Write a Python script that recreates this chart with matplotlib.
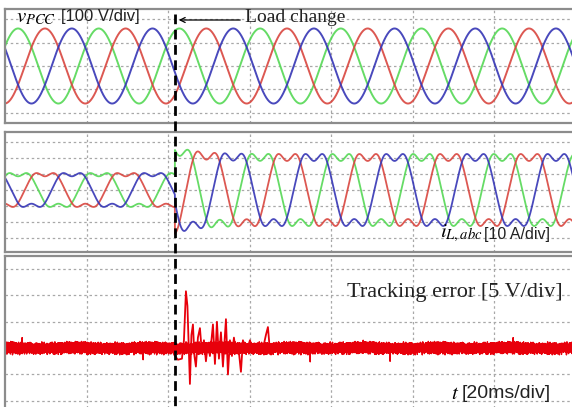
import numpy as np
import matplotlib
matplotlib.use("Agg")
import matplotlib.pyplot as plt
from matplotlib.lines import Line2D
from matplotlib.patches import FancyArrowPatch

plt.rcParams['mathtext.fontset'] = 'stix'

# ---- values read off the scope capture (physical units) ----
# time base: 20 ms/div, load change at ~41.7 ms
T_END = 142.0              # ms shown
T_LOAD = 41.7              # ms
PERIOD = 19.8              # ms, grid frequency ~50 Hz

# PCC voltage (100 V/div)
V_AMP = 160.0              # V peak
V_PHASE_PEAK = [3.2, 3.2 + PERIOD / 3, 3.2 + 2 * PERIOD / 3]   # green, red, blue peak times (ms)

# load current (10 A/div)
I_PEAK_PRE = 10.6          # A
I_PEAK_POST = 22.5         # A
I_OVERSHOOT = 0.22         # relative overshoot right after load change
I_OVERSHOOT_TAU = 5.0      # ms
HARM_ORDER = [1, 3, 5]
HARM_GAIN = [1.0, -0.22, -0.04]

# tracking error (5 V/div)
NOISE_A = [0.6, -0.4, 0.9, -0.8, 0.2, -1.0, 0.7, 0.1, -0.5, 1.0, -0.3, 0.4,
           -0.9, 0.8, -0.2, 0.5, -0.7, 0.3, -0.1, 0.9, -0.6, 0.2, -0.8, 0.6,
           -0.4, 1.0, -0.9, 0.1, 0.4, -0.3, 0.7, -1.0, 0.5, -0.2, 0.8, -0.5,
           0.3, -0.7, 0.9, 0.0, -0.6, 0.6, -0.1, 0.2, -0.9, 0.8, -0.4, 0.5,
           -0.8, 0.3, 0.7, -0.3, 0.1, -0.6, 0.9, -0.2, 0.4, -1.0, 0.6, -0.5, 0.2]
NOISE_B = [0.3, -0.5, 0.1, 0.6, -0.2, -0.6, 0.4, 0.2, -0.4, 0.5, -0.1, -0.3,
           0.6, -0.5, 0.2, 0.0, -0.6, 0.5, -0.2, 0.3, 0.1, -0.4, 0.6, -0.3,
           -0.1, 0.4, -0.5, 0.2, 0.5]
NOISE_SCALE = 0.8          # V
SPIKE_T = [4.2, 33.9, 74.9, 87.9, 94.5, 124.7]       # ms
SPIKE_V = [2.0, -2.2, -2.6, 1.5, -2.5, 2.0]           # V
TRANS_T = [-1.0, 0.0, 0.74, 1.72, 2.21, 2.70, 3.07, 3.44, 3.68, 4.05, 4.42,
           4.79, 5.15, 5.64, 6.14, 6.63, 7.12, 7.61, 8.10, 8.59, 9.33, 9.82,
           10.31, 10.80, 11.29, 11.78, 12.52, 13.01, 13.50, 13.99, 14.48,
           14.97, 15.46, 16.20, 16.69, 17.42, 18.41, 19.39, 20.37, 21.35,
           22.33, 22.82, 23.31, 24.29, 25.28]                # ms after load change
TRANS_V = [0.0, -1.5, -2.2, -2.0, 1.5, 10.8, 8.0, -1.0, -6.8, 2.5, 4.5,
           -1.5, -3.5, 2.0, 3.8, -1.0, 1.5, -2.5, 1.0, -1.5, 4.5, -3.0,
           5.0, -2.0, 3.0, -3.5, 5.5, -5.0, 1.5, -1.5, 2.0, -1.0, 1.0, -4.5,
           1.5, -1.0, 1.5, -1.0, 1.0, -1.0, 2.5, 4.0, -0.5, 1.0, 0.0]  # V

PHASE_COLORS = ['#55d855', '#d9463f', '#3535b5']   # green, red, blue
ERR_COLOR = '#e8000b'

W, H = 572, 407
DIV_PX = 81.5
X0_PX = 5


def fx(px):
    return px / W


def fy(py):
    return 1 - py / H


def add_panel(top, bottom, ylim, ystep):
    width_px = 580
    xmax = width_px / DIV_PX * 20
    ax = fig.add_axes([fx(X0_PX), fy(bottom), width_px / W, (bottom - top) / H])
    ax.set_xticks(np.arange(20, xmax, 20))
    ax.set_yticks(np.arange(np.ceil(ylim[0] / ystep) * ystep, ylim[1], ystep))
    ax.set_xlim(0, xmax)
    ax.set_ylim(*ylim)
    ax.tick_params(length=0, labelbottom=False, labelleft=False)
    ax.grid(True, color='#a8a8a8', lw=0.9, ls=(0, (2, 2.2)))
    for s in ax.spines.values():
        s.set_color('#8c8c8c')
        s.set_linewidth(1.6)
    ax.spines['right'].set_visible(False)
    return ax


fig = plt.figure(figsize=(W / 100, H / 100), dpi=100)

t = np.arange(0, T_END, 0.02)

# ---- panel 1: PCC voltages ----
ax1 = add_panel(9, 123, (-243, 243), 100)
for tp, c in zip(V_PHASE_PEAK, PHASE_COLORS):
    v = V_AMP * np.cos(2 * np.pi * (t - tp) / PERIOD)
    ax1.plot(t, v, color=c, lw=1.4, alpha=0.9)

# ---- panel 2: load currents ----
ax2 = add_panel(132, 252, (-38.75, 36.25), 10)
theta = np.linspace(0, 2 * np.pi, 721)
shape_ref = sum(g * np.cos(h * theta) for h, g in zip(HARM_ORDER, HARM_GAIN))
norm = np.max(np.abs(shape_ref))
after = t >= T_LOAD
env = np.where(after,
               I_PEAK_POST * (1 + I_OVERSHOOT * np.exp(-(t - T_LOAD) / I_OVERSHOOT_TAU)),
               I_PEAK_PRE)
for tp, c in zip(V_PHASE_PEAK, PHASE_COLORS):
    ph = 2 * np.pi * (t - tp) / PERIOD
    shape = sum(g * np.cos(h * ph) for h, g in zip(HARM_ORDER, HARM_GAIN)) / norm
    ax2.plot(t, env * shape, color=c, lw=1.3, alpha=0.9)

# ---- panel 3: tracking error ----
ax3 = add_panel(256, 415, (-12.7, 17.5), 5)
na = np.resize(NOISE_A, t.size)
nb = np.resize(NOISE_B, t.size)
err = NOISE_SCALE * (na + nb)
for ts, vs in zip(SPIKE_T, SPIKE_V):
    err[np.argmin(np.abs(t - ts))] = vs
ax3.plot(t, err, color=ERR_COLOR, lw=1.0)
ax3.plot(np.array(TRANS_T) + T_LOAD, TRANS_V, color=ERR_COLOR, lw=1.3)

# ---- annotations ----
fig.add_artist(Line2D([fx(175), fx(175)], [fy(14), fy(407)], color='black',
                      lw=2.0, ls=(0, (3.5, 2))))
fig.add_artist(FancyArrowPatch((fx(243), fy(20)), (fx(176), fy(20)),
                               transform=fig.transFigure, arrowstyle='->',
                               mutation_scale=9, lw=0.9, color='black'))

fig.text(fx(16), fy(17), r'$v_{PCC}$', fontsize=15, va='center', ha='left')
fig.text(fx(61), fy(17), '[100 V/div]', fontsize=12, va='center', ha='left',
         family='Liberation Sans', color='#222222')
fig.text(fx(245), fy(17), 'Load change', fontsize=14, va='center', ha='left',
         family='Liberation Serif', color='#222222')
fig.text(fx(440), fy(233), r'$i_{L,abc}$', fontsize=15, va='center', ha='left')
fig.text(fx(484), fy(235), '[10 A/div]', fontsize=11.5, va='center', ha='left',
         family='Liberation Sans', color='#222222')
fig.text(fx(347), fy(293), 'Tracking error [5 V/div]', fontsize=16, va='center',
         ha='left', family='Liberation Serif', color='#222222')
fig.text(fx(451), fy(393), r'$t$', fontsize=15, va='center', ha='left')
fig.text(fx(462), fy(393), '[20ms/div]', fontsize=14, va='center', ha='left',
         family='Liberation Sans', color='#222222')

fig.savefig('out.png', dpi=100)
